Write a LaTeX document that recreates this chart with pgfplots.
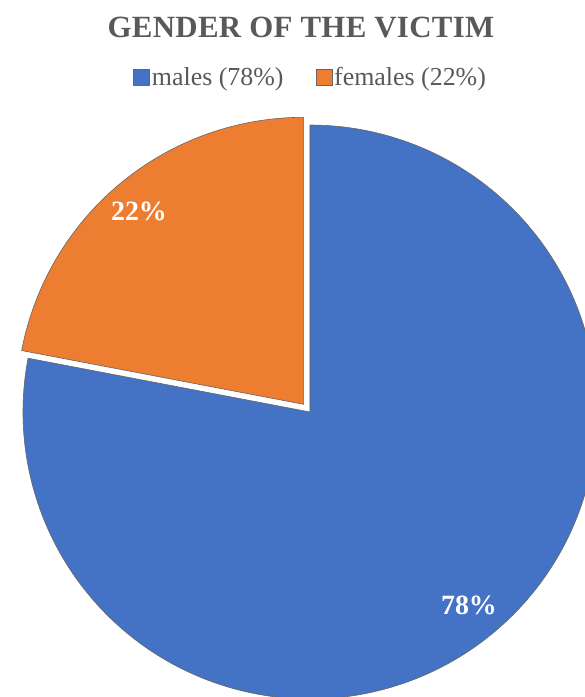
\documentclass[border=0pt]{standalone}
\usepackage{pgfplots}
\pgfplotsset{compat=1.18}
\usepackage{pgfplotstable}
\usepackage{fontspec}
\setmainfont{Liberation Serif}
\definecolor{pieblue}{HTML}{4472C4}
\definecolor{pieorange}{HTML}{ED7D31}
\definecolor{titlegray}{HTML}{595959}
\pgfplotstableread{
label value
males 78
females 22
}\piedata
\begin{document}
\pgfplotstablegetelem{0}{value}\of\piedata \let\vm\pgfplotsretval
\pgfplotstablegetelem{1}{value}\of\piedata \let\vf\pgfplotsretval
\pgfmathsetmacro{\bs}{90-3.6*\vm}
\pgfmathsetmacro{\fe}{90+3.6*\vf}
\begin{tikzpicture}
\useasboundingbox (0,0) rectangle (580bp,697bp);
\begin{axis}[x=1bp,y=1bp,xmin=0,xmax=580,ymin=0,ymax=697,
  hide axis, clip=true, anchor=south west, at={(0,0)},
  legend image code/.code={\draw[#1, line width=0.6pt] (0bp,-8bp) rectangle (16bp,8bp);},
  legend columns=2,
  legend style={at={(0.527,0.8895)}, anchor=center, draw=none, fill=none,
    font=\fontsize{26}{30}\selectfont,
    text=titlegray, inner sep=0pt,
    /tikz/every even column/.append style={column sep=30bp},
    nodes={inner xsep=2bp}},
]
\addplot[fill=pieblue, draw=black!60, line width=0.6pt, line join=round,
  domain=\bs:90, samples=240, variable=\t]
  ({305+287*cos(\t)}, {285+287*sin(\t)}) -- (axis cs:305,285) -- cycle;
\addlegendentry{males (78\%)}
\addplot[fill=pieorange, draw=white, line width=3.5pt, line join=miter,
  domain=90:\fe, samples=80, variable=\t, forget plot]
  ({298.6+287*cos(\t)}, {292.7+287*sin(\t)}) -- (axis cs:298.6,292.7) -- cycle;
\addplot[fill=pieorange, draw=black!60, line width=0.6pt, line join=miter,
  domain=90:\fe, samples=80, variable=\t]
  ({298.6+287*cos(\t)}, {292.7+287*sin(\t)}) -- (axis cs:298.6,292.7) -- cycle;
\addlegendentry{females (22\%)}
\node[text=white, font=\bfseries\fontsize{28}{30}\selectfont] at (axis cs:134,486) {22\%};
\node[text=white, font=\bfseries\fontsize{28}{30}\selectfont] at (axis cs:464,92) {78\%};
\node[text=titlegray, font=\bfseries\fontsize{31}{36}\selectfont\addfontfeature{LetterSpace=1}] at (axis cs:296,669.5) {GENDER OF THE VICTIM};
\end{axis}
\end{tikzpicture}
\end{document}
